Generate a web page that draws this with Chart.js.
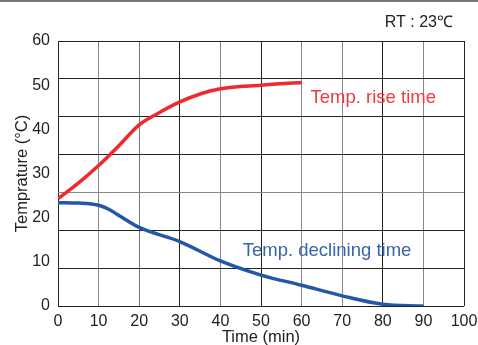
<!DOCTYPE html>
<html>
<head>
<meta charset="utf-8">
<style>
  html, body { margin: 0; padding: 0; background: #ffffff; }
  #wrap { width: 478px; height: 345px; }
</style>
<script src="https://cdn.jsdelivr.net/npm/chart.js@4/dist/chart.umd.min.js"></script>
</head>
<body>
<div id="wrap"><canvas id="c" width="478" height="345"></canvas></div>
<script>
// Time axis (min)
const riseTimes = [0, 5, 10, 15, 20, 25, 30, 35, 40, 50, 60];
const riseTemps = [24.3, 27.8, 31.8, 36.3, 41.0, 43.8, 46.2, 48.0, 49.2, 50.0, 50.6];

const declineTimes = [0, 5, 10, 12.5, 15, 20, 30, 40, 50, 60, 70, 80, 90];
const declineTemps = [23.4, 23.3, 22.8, 21.9, 20.5, 17.8, 14.6, 10.2, 7.0, 4.7, 2.3, 0.4, 0.0];

const xTicks = [0, 10, 20, 30, 40, 50, 60, 70, 80, 90, 100];
const yTicks = [0, 10, 20, 30, 40, 50, 60];

const seriesNames = ['Temp. rise time', 'Temp. declining time'];
// label anchor points (x in min, y in °C) for the series captions
const captionAt = [[62.2, 45.9], [45.5, 11.3]];
const ambientNote = 'RT : 23\u2103';

const RED = '#ee2a2e';
const BLUE = '#2358a8';

const tickFont = { family: "'Liberation Sans Narrow', 'Liberation Sans', Arial, sans-serif", size: 16 };

function pts(xs, ys) { return xs.map((x, i) => ({ x: x, y: ys[i] })); }

const vGridColors = ['#222', '#888', '#777', '#222', '#888', '#222', '#888', '#888', '#222', '#888', '#222'];
const hGridColors = ['#222', '#222', '#222', '#888', '#222', '#222', '#222', '#222'];

const decor = {
  id: 'decor',
  beforeDraw(chart) {
    const ctx = chart.ctx;
    ctx.save();
    ctx.fillStyle = '#777';
    ctx.fillRect(0, 0, chart.width, 2);
    ctx.restore();
  },
  afterDraw(chart) {
    const ctx = chart.ctx;
    const xs = chart.scales.x, ys = chart.scales.y;
    ctx.save();
    ctx.textBaseline = 'alphabetic';
    ctx.font = "18.5px 'Liberation Sans', Arial, sans-serif";
    ctx.textAlign = 'left';
    ctx.fillStyle = '#ee3a40';
    ctx.fillText(seriesNames[0], xs.getPixelForValue(captionAt[0][0]), ys.getPixelForValue(captionAt[0][1]));
    ctx.fillStyle = '#3763b5';
    ctx.fillText(seriesNames[1], xs.getPixelForValue(captionAt[1][0]), ys.getPixelForValue(captionAt[1][1]));
    ctx.font = "16px 'Liberation Sans', Arial, sans-serif";
    ctx.fillStyle = '#222';
    ctx.textAlign = 'right';
    ctx.fillText(ambientNote, 453, 27.3);
    ctx.restore();
  }
};

new Chart(document.getElementById('c'), {
  type: 'line',
  data: {
    datasets: [
      {
        label: seriesNames[0],
        data: pts(riseTimes, riseTemps),
        borderColor: RED,
        borderWidth: 3.5,
        pointRadius: 0,
        cubicInterpolationMode: 'monotone',
        fill: false
      },
      {
        label: seriesNames[1],
        data: pts(declineTimes, declineTemps),
        borderColor: BLUE,
        borderWidth: 3.5,
        pointRadius: 0,
        cubicInterpolationMode: 'monotone',
        fill: false
      }
    ]
  },
  options: {
    responsive: false,
    animation: false,
    layout: { padding: { top: 41, right: 14, bottom: 0, left: 0 } },
    plugins: {
      legend: { display: false },
      tooltip: { enabled: false }
    },
    scales: {
      x: {
        type: 'linear',
        min: 0,
        max: 100,
        afterBuildTicks(s) { s.ticks = xTicks.map(v => ({ value: v })); },
        ticks: { font: tickFont, color: '#222', padding: 6, maxRotation: 0, autoSkip: false },
        grid: {
          display: true,
          drawTicks: false,
          color: ctx => vGridColors[ctx.index] || '#222',
          lineWidth: 1
        },
        border: { display: false },
        title: {
          display: true,
          text: 'Time (min)',
          color: '#222',
          font: { family: "'Liberation Sans', Arial, sans-serif", size: 16.5, lineHeight: 1 },
          padding: { top: 0, bottom: -1 }
        },
        afterFit(s) { s.height = 39; s.paddingLeft = 0; s.paddingRight = 0; }
      },
      y: {
        type: 'linear',
        position: 'left',
        min: 0,
        max: 60,
        afterBuildTicks(s) { s.ticks = yTicks.map(v => ({ value: v })); },
        ticks: { font: tickFont, color: '#222', padding: 8 },
        grid: { display: false, drawTicks: false },
        border: { display: false },
        title: {
          display: true,
          text: 'Temprature (\u00B0C)',
          color: '#222',
          font: { family: "'Liberation Sans', Arial, sans-serif", size: 16.5, lineHeight: 1 },
          padding: { top: 14, bottom: 0 }
        },
        afterFit(s) { s.width = 58; s.paddingTop = 0; s.paddingBottom = 0; }
      },
      yg: {
        type: 'linear',
        position: 'right',
        min: 0,
        max: 7,
        ticks: { display: false, stepSize: 1 },
        grid: {
          display: true,
          drawTicks: false,
          color: ctx => hGridColors[ctx.index] || '#222',
          lineWidth: 1
        },
        border: { display: false },
        afterFit(s) { s.width = 0; s.paddingTop = 0; s.paddingBottom = 0; }
      }
    }
  },
  plugins: [decor]
});
</script>
</body>
</html>
